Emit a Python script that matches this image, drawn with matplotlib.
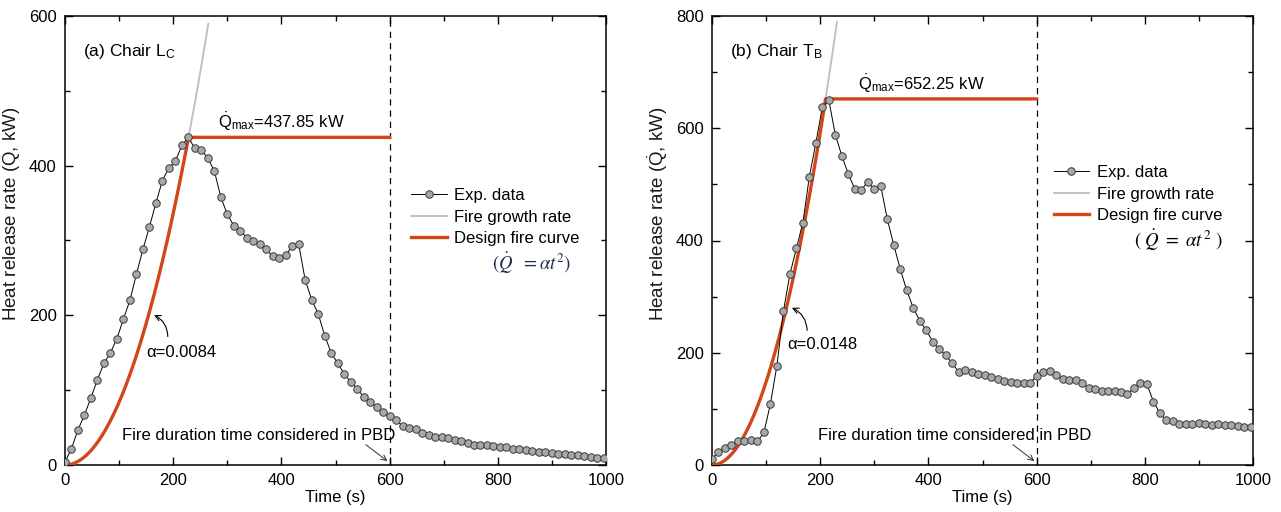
import numpy as np
import matplotlib
matplotlib.use("Agg")
import matplotlib.pyplot as plt
from matplotlib.ticker import MultipleLocator

plt.rcParams['font.family'] = ['Liberation Sans', 'DejaVu Sans']
plt.rcParams['mathtext.fontset'] = 'custom'
plt.rcParams['mathtext.rm'] = 'Liberation Sans'
plt.rcParams['mathtext.it'] = 'Liberation Sans:italic'

# measured HRR, one sample every 12 s
dt = 12
hrr_lc = [4, 22, 47, 67, 90, 114, 136, 150, 169, 195, 220, 255, 288, 318, 350, 380,
          397, 406, 427, 438, 423, 421, 410, 393, 358, 335, 320, 313, 304, 299, 295,
          288, 279, 276, 280, 293, 295, 247, 221, 202, 173, 150, 136, 122, 111, 102,
          91, 84, 77, 71, 65, 60, 52, 49, 48, 43, 40, 38, 37, 36.6, 33, 31.6, 29,
          26.7, 26.7, 26.7, 26, 24.4, 23.5, 22, 21, 20, 19, 18, 17, 16, 15, 14.5, 13,
          13, 12, 11, 10, 10]
hrr_tb = [11, 24, 30, 36, 42, 42, 45, 42, 58, 109, 177, 274, 340, 386, 432, 514,
          574, 638, 650, 588, 551, 518, 492, 490, 505, 491, 497, 438, 392, 349, 311,
          280, 257, 240, 220, 206, 196, 181, 166, 169, 166, 162, 160, 157, 153, 150,
          147, 146, 146, 146, 159, 166, 167, 160, 153, 152, 151, 146, 137, 135, 132,
          132, 132, 130, 126, 138, 146, 144, 113, 92, 80, 78, 73, 73, 73, 74, 73, 72,
          73, 72, 72, 70, 68, 67]

alphas = [0.0084, 0.0148]
q_max = [437.85, 652.25]
growth_end = [265, 231]      # where the t-squared guide line stops
t_pbd = 600
titles = ['(a) Chair L$_\\mathregular{C}$', '(b) Chair T$_\\mathregular{B}$']
ylims = [600, 800]

red = '#d2461a'
fs = 12
fig = plt.figure(figsize=(12.81, 5.12), dpi=100)
W, H = 1281, 512
axes = [fig.add_axes([65 / W, 1 - 465 / H, 541 / W, 449 / H]),
        fig.add_axes([712 / W, 1 - 465 / H, 541 / W, 449 / H])]

# per-panel text placement
alpha_txt = [(150, 150), (140, 215)]
alpha_tip = [(160, 202), (143, 282)]
alpha_tail = [(190, 168), (176, 235)]
pbd_x = [357, 448]
leg_anchor = [(0.627, 0.632), (0.619, 0.683)]
formula_pos = [(0.937, 0.45), (0.943, 0.501)]
formula_txt = ['$(\\dot{Q}\\ \\ =\\alpha t^2)$', '$(\\ \\dot{Q}\\ =\\ \\alpha t^2\\ )$']
formula_col = ['#1f2d4f', 'black']
qmax_x = [399, 387]

for k, ax in enumerate(axes):
    hrr = hrr_lc if k == 0 else hrr_tb
    t = np.arange(len(hrr)) * dt
    a = alphas[k]
    t_peak = np.sqrt(q_max[k] / a)

    tg = np.linspace(0, growth_end[k], 200)
    ax.plot(tg, a * tg ** 2, color='#bdbdbd', lw=1.3, zorder=2, label='Fire growth rate')
    td = np.linspace(0, t_peak, 200)
    td = np.append(td, t_pbd)
    qd = np.append(a * td[:-1] ** 2, q_max[k])
    ax.plot(td, qd, color=red, lw=2.4, zorder=3, label='Design fire curve')
    ax.plot(t, hrr, color='black', lw=0.7, marker='o', ms=5.4, mfc='#a8a8a8',
            mec='#3a3a3a', mew=0.7, zorder=4, label='Exp. data')
    ax.axvline(t_pbd, color='black', lw=0.9, ls=(0, (5, 4)), zorder=1)

    ax.set_xlim(0, 1000)
    ax.set_ylim(0, ylims[k])
    ax.xaxis.set_major_locator(MultipleLocator(200))
    ax.xaxis.set_minor_locator(MultipleLocator(100))
    ax.yaxis.set_major_locator(MultipleLocator(200))
    ax.yaxis.set_minor_locator(MultipleLocator(100))
    ax.tick_params(which='both', direction='in', top=True, right=True, labelsize=fs)
    ax.tick_params(which='major', length=6, width=1, pad=6)
    ax.tick_params(which='minor', length=3.5, width=1)
    for s in ax.spines.values():
        s.set_linewidth(1.1)
    ax.set_xlabel('Time (s)', fontsize=fs, labelpad=1)
    ax.set_ylabel('Heat release rate ($\\mathregular{\\dot{Q}}$, kW)', fontsize=13.5,
                  labelpad=4, y=0.56, color='#1a1a1a')

    ax.text(0.033, 0.92, titles[k], transform=ax.transAxes, fontsize=12.5,
            va='center', ha='left')
    ax.text(qmax_x[k], q_max[k] + ylims[k] * 0.034,
            '$\\mathregular{\\dot{Q}_{max}}$=%.2f kW' % q_max[k],
            fontsize=fs, ha='center', va='center')
    ax.text(*alpha_txt[k], '\u03b1=%s' % alphas[k], fontsize=fs, ha='left', va='center')
    ax.annotate('', xy=alpha_tip[k], xytext=alpha_tail[k],
                arrowprops=dict(arrowstyle='->', color='black', lw=0.8,
                                connectionstyle='arc3,rad=0.35'))
    ax.text(pbd_x[k], ylims[k] * 0.0646, 'Fire duration time considered in PBD',
            fontsize=fs, ha='center', va='center')
    ax.annotate('', xy=(t_pbd, ylims[k] * 0.005), xytext=(t_pbd - 48, ylims[k] * 0.049),
                arrowprops=dict(arrowstyle='->', color='#333333', lw=0.7))

    h, l = ax.get_legend_handles_labels()
    order = [2, 0, 1]
    ax.legend([h[i] for i in order], [l[i] for i in order], loc='upper left',
              bbox_to_anchor=leg_anchor[k], frameon=False, fontsize=fs,
              handlelength=2.15, handletextpad=0.45, labelspacing=0.4,
              borderaxespad=0)
    ax.text(*formula_pos[k], formula_txt[k], transform=ax.transAxes, fontsize=13.5,
            ha='right', va='center', color=formula_col[k], math_fontfamily='stix')

fig.savefig('out.png', dpi=100)
